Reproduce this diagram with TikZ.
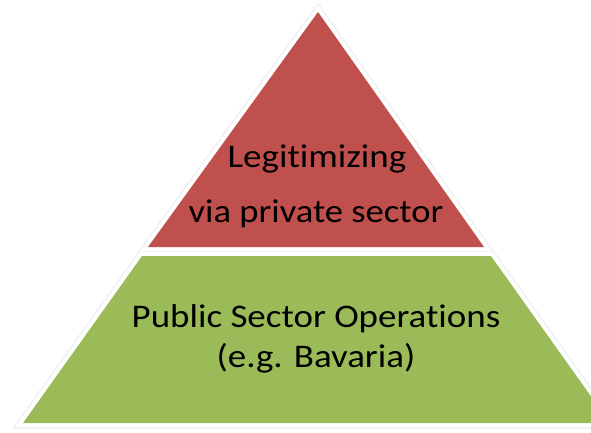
\documentclass[tikz,border=0pt]{standalone}
\usepackage{fontspec}
\setmainfont[Ligatures={NoCommon}]{Carlito}
\definecolor{topred}{HTML}{C0504D}
\definecolor{basegreen}{HTML}{9BBB59}
\begin{document}
\begin{tikzpicture}[x=1pt,y=-1pt,
  glow/.style={draw=black!6,line width=11pt,line join=miter},
  rim/.style={draw=white,line width=8pt,line join=miter},
  lbl/.style={inner sep=0pt,anchor=base,text=black}]
\useasboundingbox (0,0) rectangle (591,432);
\begin{scope}
\clip (0,0) rectangle (591,432);
% glow
\draw[glow] (318,12) -- (484,247) -- (148,247) -- cycle;
\draw[glow] (142,256) -- (491,256) -- (610,423) -- (23,423) -- cycle;
% white rims
\draw[rim] (318,12) -- (484,247) -- (148,247) -- cycle;
\draw[rim] (142,256) -- (491,256) -- (610,423) -- (23,423) -- cycle;
% fills
\fill[topred] (318,12) -- (484,247) -- (148,247) -- cycle;
\fill[basegreen] (142,256) -- (491,256) -- (610,423) -- (23,423) -- cycle;
\end{scope}
\node[lbl,font=\fontsize{33}{40}\selectfont,xscale=1.12] (t1) at (317,167) {Legitimizing};
\node[lbl,font=\fontsize{33}{40}\selectfont,xscale=1.11] (t2) at (316,222) {via private sector};
\node[lbl,font=\fontsize{33}{40}\selectfont,xscale=1.12] (b1) at (316,327) {Public Sector Operations};
\node[lbl,font=\fontsize{33}{40}\selectfont,xscale=1.12] (b2) at (316,367) {(e.g. Bavaria)};
\end{tikzpicture}
\end{document}
